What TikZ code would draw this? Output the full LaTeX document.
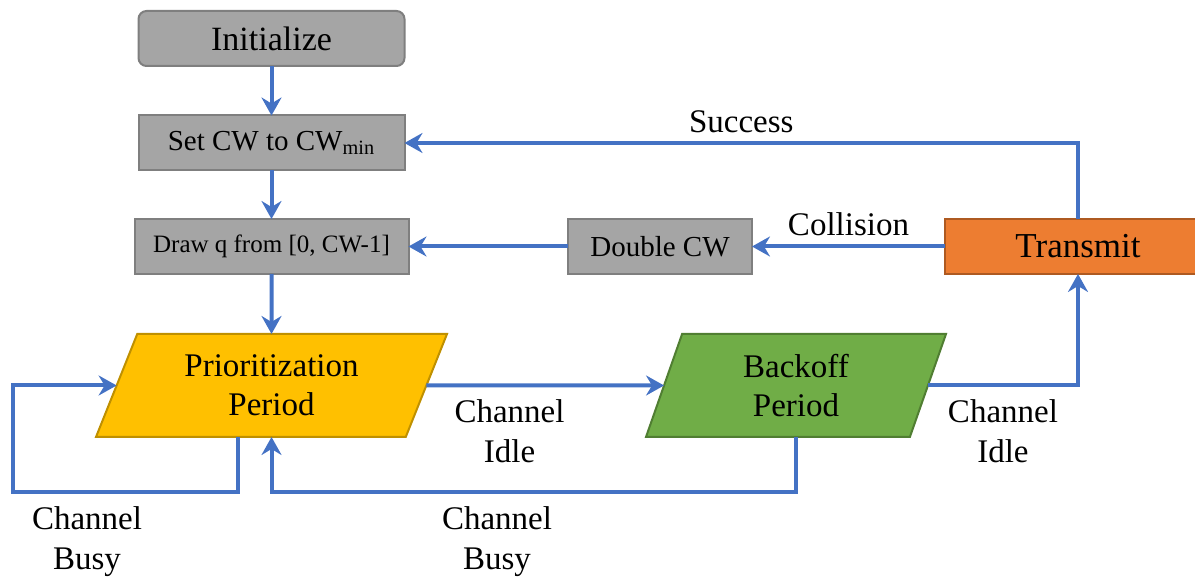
\documentclass[tikz,border=0pt]{standalone}
\usepackage{fontspec}
\setmainfont{Liberation Serif}
\usetikzlibrary{positioning,arrows.meta,calc,shapes.geometric}
\definecolor{cwBlue}{RGB}{68,114,196}
\definecolor{cwGray}{RGB}{165,165,165}
\definecolor{cwGrayLine}{RGB}{127,127,127}
\definecolor{cwGold}{RGB}{255,192,0}
\definecolor{cwGoldLine}{RGB}{191,144,0}
\definecolor{cwGreen}{RGB}{112,173,71}
\definecolor{cwGreenLine}{RGB}{80,126,50}
\definecolor{cwOrange}{RGB}{237,125,49}
\definecolor{cwOrangeLine}{RGB}{174,90,33}
\tikzset{
    base/.style={align=center, inner sep=0pt, outer sep=0pt},
    stepbox/.style={base, rectangle, draw=cwGrayLine, fill=cwGray, line width=1pt,
                    minimum height=27.5pt},
    period/.style={base, trapezium, trapezium stretches body=true, line width=1pt,
                   minimum height=51.5pt, font=\fontsize{16.5}{19.5}\selectfont},
    flow/.style={-{Stealth[length=9pt,width=10pt,inset=3pt]}, line width=2pt, draw=cwBlue},
    note/.style={base, font=\fontsize{16.5}{20}\selectfont}
}

\begin{document}
\begin{tikzpicture}[x=0.5pt, y=-0.5pt]
  \useasboundingbox (0,0) rectangle (1195,581);

  % Steps of the contention window
  \node[stepbox, rounded corners=4pt, minimum width=133pt,
        font=\fontsize{17}{20}\selectfont] (init) at (271.5,38.5) {Initialize};
  \node[stepbox, minimum width=133pt, font=\fontsize{14.5}{17}\selectfont]
        (setcw) at (271.5,143) {Set CW to CW\textsubscript{min}};
  \node[stepbox, minimum width=137pt, font=\fontsize{12.5}{15}\selectfont]
        (drawq) at (271.5,246.5) {Draw q from [0, CW-1]};
  \node[stepbox, minimum width=92pt, font=\fontsize{14.5}{17}\selectfont]
        (dbl) at (660,246.5) {Double CW};
  \node[stepbox, draw=cwOrangeLine, fill=cwOrange, minimum width=133pt,
        font=\fontsize{17.5}{20}\selectfont] (tx) at (1078,246.5) {Transmit};

  % Sensing periods
  \node[period, trapezium left angle=56, trapezium right angle=124,
        fill=cwGold, draw=cwGoldLine, minimum width=175.5pt]
        (prio) at (271.5,385.5) {Prioritization\\Period};
  \node[period, trapezium left angle=60, trapezium right angle=120,
        fill=cwGreen, draw=cwGreenLine, minimum width=150pt]
        (bck) at (796,385.5) {Backoff\\Period};

  % Flow
  \draw[flow] (init) -- (setcw);
  \draw[flow] (setcw) -- (drawq);
  \draw[flow] (drawq) -- (prio);
  \draw[flow] (tx) -- node[note, above=5.5pt] {Collision} (dbl);
  \draw[flow] (dbl) -- (drawq);
  \draw[flow] (tx.north) |- node[note, pos=0.75, above=5pt] {Success} (setcw.east);
  \draw[flow] (prio.east) -- node[note, pos=0.35, below=7pt] {Channel\\Idle} (bck.west);
  \draw[flow] (bck.east) -| node[note, pos=0.25, below=7pt] {Channel\\Idle} (tx.south);
  \draw[flow] ([xshift=-17pt]prio.south) -- ++(0,55) -- ++(-225,0) |- (prio.west);
  \draw[flow] (bck.south) -- ++(0,55) -| (prio.south);

  % Busy labels
  \node[note] (busyL) at (87,542) {Channel\\Busy};
  \node[note] (busyM) at (497,542) {Channel\\Busy};
\end{tikzpicture}
\end{document}
